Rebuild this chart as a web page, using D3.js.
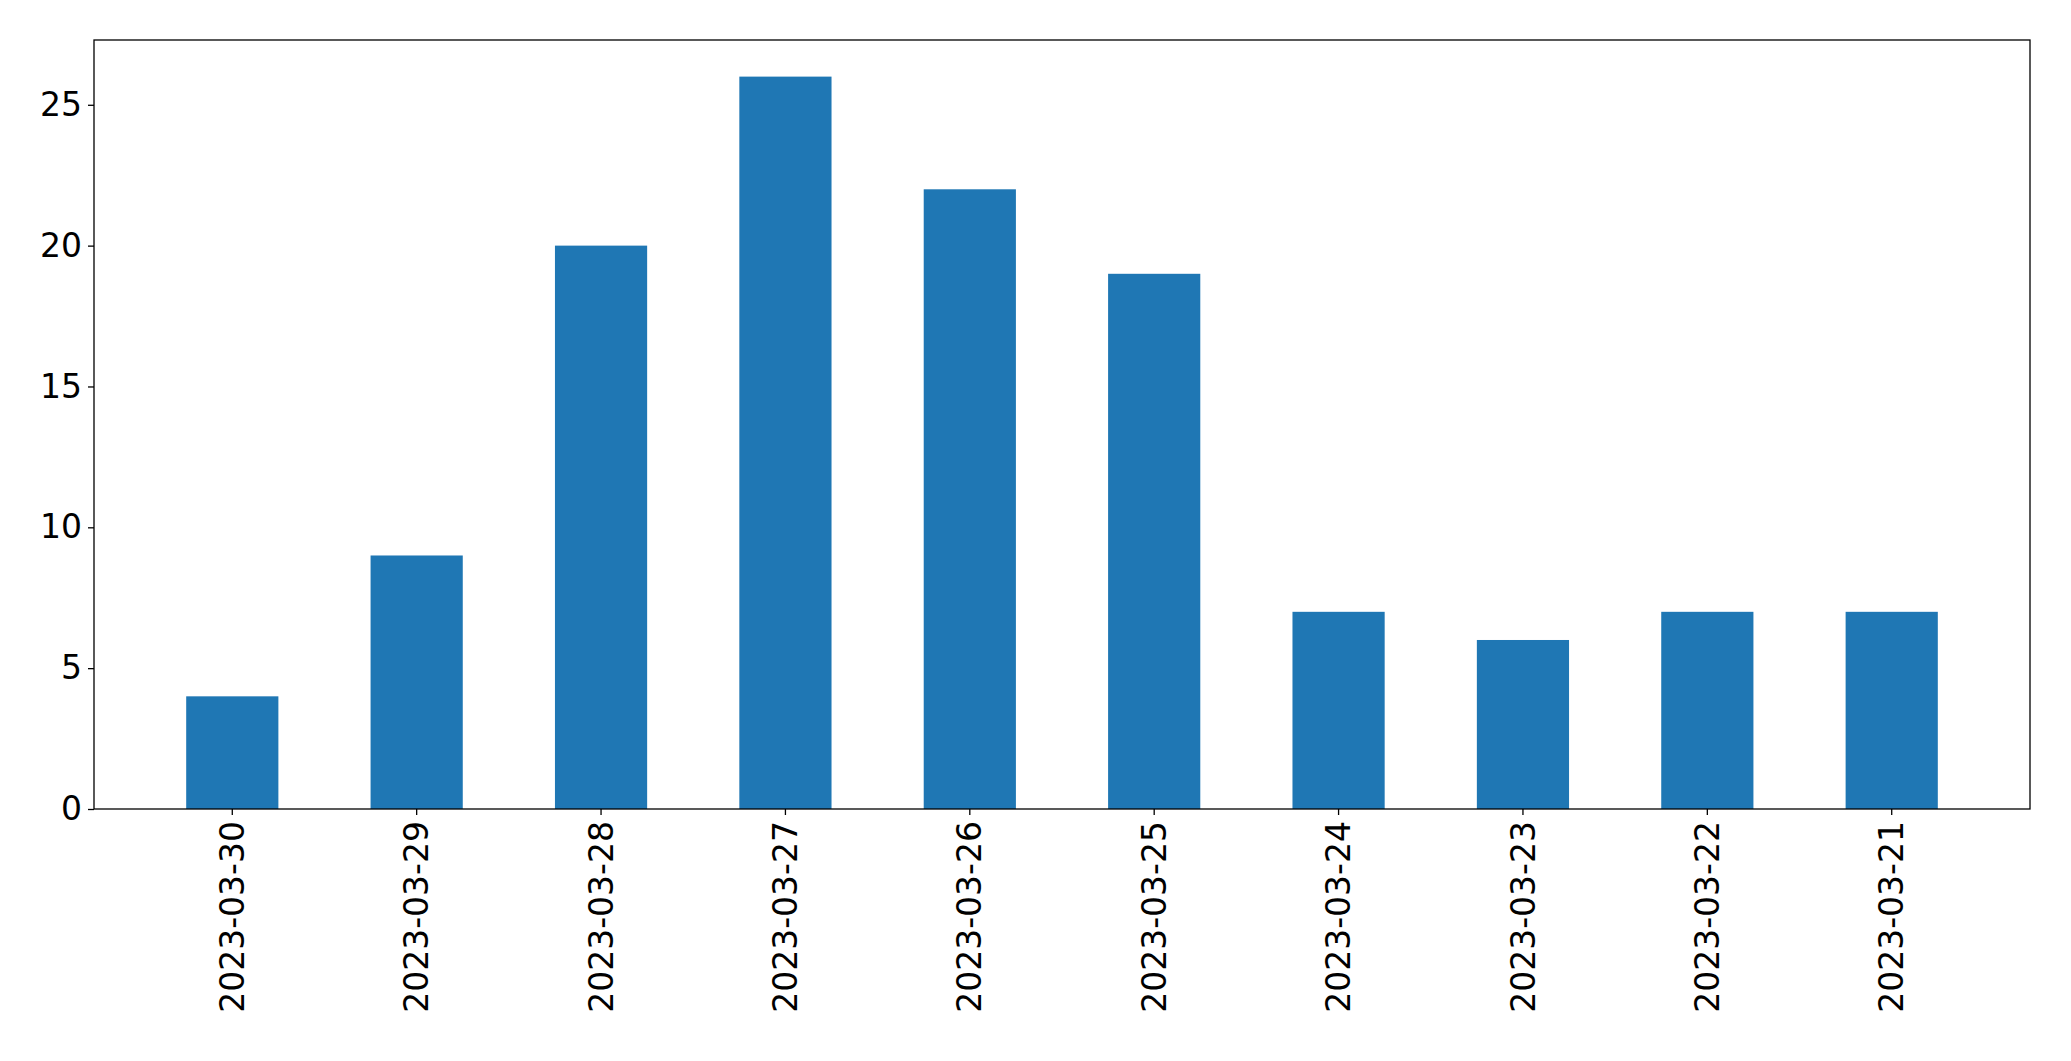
<!DOCTYPE html>
<html><head><meta charset="utf-8">
<script src="https://cdn.jsdelivr.net/npm/d3@7/dist/d3.min.js"></script>
<style>body{margin:0;background:#fff}text{font-family:"DejaVu Sans",sans-serif}</style>
</head><body><div class="chart"></div>
<script>
var dates = ["2023-03-30","2023-03-29","2023-03-28","2023-03-27","2023-03-26","2023-03-25","2023-03-24","2023-03-23","2023-03-22","2023-03-21"];
var counts = [4, 9, 20, 26, 22, 19, 7, 6, 7, 7];
var yTicks = [0, 5, 10, 15, 20, 25];

var margins = {top: 40, right: 41, bottom: 252, left: 94};
var width = 2071, height = 1061;
var chartWidth = width - margins.left - margins.right;
var chartHeight = height - margins.top - margins.bottom;

var svg = d3.select("div.chart").append("svg")
  .attr("width", width).attr("height", height);
var g = svg.append("g").attr("transform", `translate(${margins.left},${margins.top})`);

var xScale = d3.scaleBand().domain(dates).range([0, chartWidth]).padding(0.5);
var yScale = d3.scaleLinear().domain([0, 26 * 1.05]).range([chartHeight, 0]);

g.selectAll("rect").data(dates).enter().append("rect")
  .attr("x", d => xScale(d))
  .attr("y", (d, i) => yScale(counts[i]))
  .attr("width", xScale.bandwidth())
  .attr("height", (d, i) => chartHeight - yScale(counts[i]))
  .attr("fill", "#1f77b4");

var xAxis = g.append("g").attr("transform", `translate(0,${chartHeight})`)
  .call(d3.axisBottom(xScale).tickSize(6).tickSizeOuter(0));
xAxis.selectAll("text")
  .attr("transform", "rotate(-90)")
  .attr("text-anchor", "end")
  .attr("x", -12).attr("y", 0).attr("dy", "0.35em");

var yAxis = g.append("g").call(d3.axisLeft(yScale).tickValues(yTicks).tickSize(6).tickSizeOuter(0));
yAxis.selectAll("text").attr("x", -12);

svg.selectAll(".tick text").attr("font-size", 33).attr("fill", "#000");
svg.selectAll(".tick line").attr("stroke", "#000").attr("stroke-width", 1.3);
svg.selectAll(".domain").remove();

g.append("rect").attr("width", chartWidth).attr("height", chartHeight)
  .attr("fill", "none").attr("stroke", "#000").attr("stroke-width", 1.3);
</script></body></html>
